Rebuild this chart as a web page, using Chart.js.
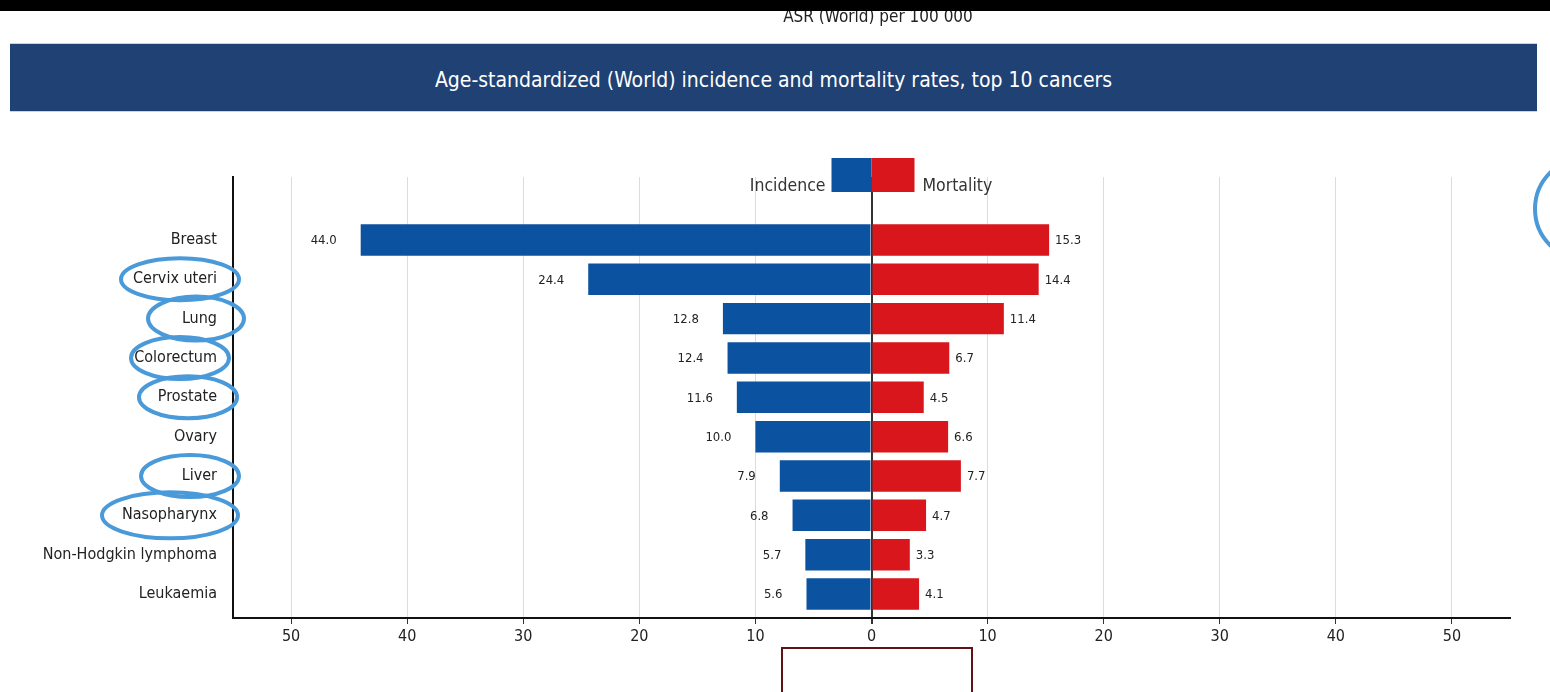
<!DOCTYPE html>
<html>
<head>
<meta charset="utf-8">
<script src="https://cdn.jsdelivr.net/npm/chart.js@4.4.1/dist/chart.umd.min.js"></script>
<style>
  body { margin: 0; background: #fff; font-family: "Liberation Sans Narrow", "DejaVu Sans Condensed", sans-serif; }
  #page { position: relative; width: 1550px; height: 692px; overflow: hidden; }
  #topbar { position: absolute; left: 0; top: 0; width: 1550px; height: 11px; background: #000; z-index: 3; }
  #unit { position: absolute; left: 0; width: 1756px; top: 6px; text-align: center; font-size: 17px; color: #222; z-index: 2; }
  #banner { position: absolute; left: 10px; top: 43px; width: 1527px; height: 67px; background: #1f4173;
            border-top: 1px solid #c9d3e0; border-bottom: 1px solid #c9d3e0; color: #fff; font-size: 21px;
            line-height: 72px; text-align: center; z-index: 2; }
  #wrap { position: absolute; left: 0; top: 0; width: 1550px; height: 692px; }
  #ring { position: absolute; left: 1533px; top: 156px; width: 98px; height: 98px; border: 4px solid #4a9ad9; border-radius: 50%; z-index: 2; }
  #box { position: absolute; left: 781px; top: 647px; width: 188px; height: 60px; border: 2px solid #5e1414; z-index: 2; }
</style>
</head>
<body>
<div id="page">
  <div id="wrap"><canvas id="myChart"></canvas></div>
  <div id="topbar"></div>
  <div id="unit">ASR (World) per 100 000</div>
  <div id="banner">Age-standardized (World) incidence and mortality rates, top 10 cancers</div>
  <div id="ring"></div>
  <div id="box"></div>
</div>
<script>
const cancers = ['Breast', 'Cervix uteri', 'Lung', 'Colorectum', 'Prostate', 'Ovary', 'Liver', 'Nasopharynx', 'Non-Hodgkin lymphoma', 'Leukaemia'];
const incidence = [44.0, 24.4, 12.8, 12.4, 11.6, 10.0, 7.9, 6.8, 5.7, 5.6];
const mortality = [15.3, 14.4, 11.4, 6.7, 4.5, 6.6, 7.7, 4.7, 3.3, 4.1];
const xTicks = [-50, -40, -30, -20, -10, 0, 10, 20, 30, 40, 50];

// circled cancer names (hand marks): centre x, radii
const circled = [
  { name: 'Cervix uteri', cx: 180, rx: 59, ry: 21 },
  { name: 'Lung', cx: 196, rx: 48, ry: 22 },
  { name: 'Colorectum', cx: 180, rx: 49, ry: 21 },
  { name: 'Prostate', cx: 188, rx: 49, ry: 21 },
  { name: 'Liver', cx: 190, rx: 49, ry: 21 },
  { name: 'Nasopharynx', cx: 170, rx: 68, ry: 23 }
];

const BLUE = '#0b52a0';
const RED = '#d9161b';
const FONT = '"Liberation Sans Narrow", "DejaVu Sans Condensed", sans-serif';

const ctx = document.getElementById('myChart');

// numbers at the end of every bar
const valueLabels = {
  id: 'valueLabels',
  afterDatasetsDraw(chart) {
    const c = chart.ctx;
    c.save();
    c.font = '13px ' + FONT;
    c.fillStyle = '#222';
    c.textBaseline = 'middle';
    chart.data.datasets.forEach((ds, di) => {
      chart.getDatasetMeta(di).data.forEach((bar, i) => {
        const v = di === 0 ? incidence[i] : mortality[i];
        if (di === 0) {
          c.textAlign = 'right';
          c.fillText(v.toFixed(1), bar.x - 24, bar.y + 1);
        } else {
          c.textAlign = 'left';
          c.fillText(v.toFixed(1), bar.x + 6, bar.y + 1);
        }
      });
    });
    c.restore();
  }
};

// legend boxes sitting on the zero line
const zeroLegend = {
  id: 'zeroLegend',
  afterDraw(chart) {
    const c = chart.ctx;
    const x0 = chart.scales.x.getPixelForValue(0);
    c.save();
    c.fillStyle = BLUE;
    c.fillRect(x0 - 40, 158, 40, 34);
    c.fillStyle = RED;
    c.fillRect(x0, 158, 43, 34);
    c.font = '17.5px ' + FONT;
    c.fillStyle = '#333';
    c.textBaseline = 'middle';
    c.textAlign = 'right';
    c.fillText('Incidence', x0 - 46, 186);
    c.textAlign = 'left';
    c.fillText('Mortality', x0 + 51, 186);
    c.restore();
  }
};

const rings = {
  id: 'rings',
  afterDraw(chart) {
    const c = chart.ctx;
    const y = chart.scales.y;
    c.save();
    c.strokeStyle = '#4a9ad9';
    c.lineWidth = 4;
    circled.forEach(m => {
      const cy = y.getPixelForValue(cancers.indexOf(m.name));
      c.beginPath();
      c.ellipse(m.cx, cy, m.rx, m.ry, 0, 0, Math.PI * 2);
      c.stroke();
    });
    c.restore();
  }
};

new Chart(ctx, {
  type: 'bar',
  data: {
    datasets: [{
      label: 'Incidence',
      data: incidence.map((v, i) => ({ y: i, x: -v })),
      backgroundColor: BLUE,
      barPercentage: 0.8,
      categoryPercentage: 1
    }, {
      label: 'Mortality',
      data: mortality.map((v, i) => ({ y: i, x: v })),
      backgroundColor: RED,
      barPercentage: 0.8,
      categoryPercentage: 1
    }]
  },
  options: {
    indexAxis: 'y',
    responsive: true,
    maintainAspectRatio: false,
    animation: false,
    layout: { padding: { top: 177, right: 40, left: 0, bottom: 0 } },
    plugins: { legend: { display: false }, tooltip: { enabled: false } },
    scales: {
      x: {
        type: 'linear',
        stacked: true,
        min: -55,
        max: 55,
        afterBuildTicks: axis => { axis.ticks = xTicks.map(v => ({ value: v })); },
        afterFit: axis => { axis.height = 74; },
        grid: {
          color: c => c.tick && c.tick.value === 0 ? '#333' : '#dcdcdc',
          lineWidth: c => c.tick && c.tick.value === 0 ? 2 : 1,
          tickColor: '#333',
          tickLength: 6
        },
        border: { display: true, color: '#111', width: 2 },
        ticks: {
          callback: v => Math.abs(v),
          color: '#222',
          font: { family: FONT, size: 16 },
          padding: 3,
          maxRotation: 0
        }
      },
      y: {
        type: 'linear',
        stacked: true,
        reverse: true,
        offset: false,
        min: -1.6,
        max: 9.61,
        afterBuildTicks: axis => { axis.ticks = cancers.map((_, i) => ({ value: i })); },
        afterFit: axis => { axis.width = 233; },
        grid: { display: false, offset: false },
        border: { display: true, color: '#111', width: 2 },
        ticks: {
          callback: v => cancers[v],
          color: '#222',
          font: { family: FONT, size: 16 },
          padding: 8,
          autoSkip: false
        }
      }
    }
  },
  plugins: [valueLabels, zeroLegend, rings]
});
</script>
</body>
</html>
